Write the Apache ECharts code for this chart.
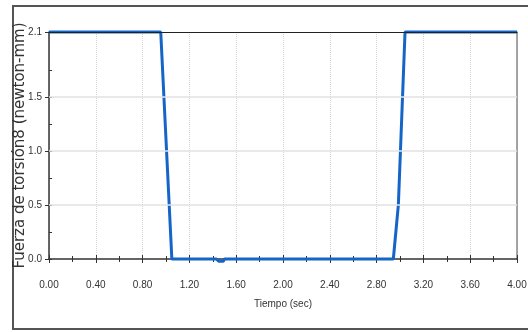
<!DOCTYPE html>
<html>
<head>
<meta charset="utf-8">
<script src="https://cdn.jsdelivr.net/npm/echarts@6/dist/echarts.min.js"></script>
<style>
  html, body { margin: 0; padding: 0; background: #fff; }
  #chart { width: 528px; height: 332px; }
</style>
</head>
<body>
<div id="chart"></div>
<script>
// time (sec) / torque samples
const tiempo = [0, 0.955, 1.05, 1.43, 1.45, 1.49, 1.5, 2.943, 2.986, 3.043, 4.0];
const fuerza = [2.1, 2.1, 0.0, 0.0, -0.02, -0.02, 0.0, 0.0, 0.5, 2.1, 2.1];

const yLabelValues = [0, 0.5, 1.0, 1.5, 2.1];
const yMinorValues = [0, 0.25, 0.5, 0.75, 1.0, 1.25, 1.5, 1.75];
const yGridValues = [0.5, 1.0, 1.5];

const dom = document.getElementById('chart');
const myChart = echarts.init(dom, null, { renderer: 'canvas' });

const tickFont = {
  fontFamily: "'Liberation Sans', Arial, sans-serif",
  fontSize: 10,
  color: '#333'
};

const option = {
  backgroundColor: '#fff',
  animation: false,
  grid: { left: 49, right: 11, top: 32, bottom: 73, containLabel: false, outerBoundsMode: 'none' },
  graphic: [
    {
      type: 'rect',
      shape: { x: 13, y: 6, width: 530, height: 323 },
      style: { fill: 'none', stroke: '#555', lineWidth: 2 }
    }
  ],
  xAxis: [
    {
      type: 'value',
      position: 'bottom',
      min: 0,
      max: 4,
      interval: 0.4,
      name: 'Tiempo (sec)',
      nameLocation: 'middle',
      nameGap: 40,
      nameMoveOverlap: false,
      nameTextStyle: { ...tickFont },
      axisLine: { onZero: false, lineStyle: { color: '#333', width: 1.5 } },
      axisTick: { length: 4, lineStyle: { color: '#333' } },
      minorTick: { show: true, splitNumber: 2, length: 3, lineStyle: { color: '#333' } },
      axisLabel: { ...tickFont, margin: 21, formatter: v => v.toFixed(2) },
      splitLine: { show: true, lineStyle: { color: '#d4d4d4', type: 'dotted' } }
    },
    {
      type: 'value',
      position: 'bottom',
      min: 0,
      max: 4,
      interval: 0.4,
      axisLine: { show: false },
      axisTick: { inside: true, length: 4, lineStyle: { color: '#333' } },
      minorTick: { show: true, splitNumber: 2, length: 3, lineStyle: { color: '#333' } },
      axisLabel: { show: false },
      splitLine: { show: false }
    },
    {
      type: 'value',
      position: 'top',
      min: 0,
      max: 4,
      z: 5,
      axisLine: { onZero: false, lineStyle: { color: '#222', width: 1 } },
      axisTick: { show: false },
      axisLabel: { show: false },
      splitLine: { show: false }
    }
  ],
  yAxis: [
    {
      type: 'value',
      position: 'left',
      min: 0,
      max: 2.1,
      name: 'Fuerza de torsión8 (newton-mm)',
      nameLocation: 'middle',
      nameGap: 21,
      nameMoveOverlap: false,
      nameTextStyle: { fontFamily: "'DejaVu Sans', sans-serif", fontSize: 15, color: '#333' },
      axisLine: { onZero: false, lineStyle: { color: '#333', width: 1.5 } },
      axisTick: { length: 4, customValues: yLabelValues, lineStyle: { color: '#333' } },
      axisLabel: { ...tickFont, margin: 7, customValues: yLabelValues, formatter: v => v.toFixed(1) },
      splitLine: { show: false }
    },
    {
      type: 'value',
      position: 'left',
      min: 0,
      max: 2.1,
      axisLine: { show: false },
      axisTick: { inside: true, length: 3, customValues: yMinorValues, lineStyle: { color: '#333' } },
      axisLabel: { show: false },
      splitLine: { show: false }
    },
    {
      type: 'value',
      position: 'right',
      min: 0,
      max: 2.1,
      axisLine: { show: true, onZero: false, lineStyle: { color: '#888', width: 1.5 } },
      axisTick: { show: false },
      axisLabel: { show: false },
      splitLine: { show: false }
    }
  ],
  series: [
    {
      type: 'line',
      xAxisIndex: 0,
      yAxisIndex: 0,
      clip: false,
      showSymbol: false,
      lineStyle: { color: '#1565c8', width: 3 },
      data: tiempo.map((t, i) => [t, fuerza[i]]),
      markLine: {
        silent: true,
        symbol: 'none',
        label: { show: false },
        lineStyle: { color: '#e2e2e2', type: 'solid', width: 1.5 },
        data: yGridValues.map(v => ({ yAxis: v }))
      }
    }
  ]
};

myChart.setOption(option);
</script>
</body>
</html>
